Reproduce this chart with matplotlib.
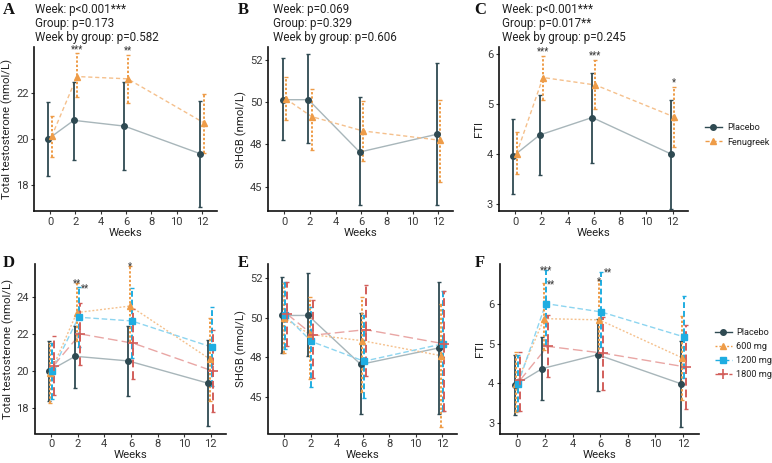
import matplotlib
matplotlib.use('Agg')
import matplotlib.pyplot as plt
from matplotlib.lines import Line2D

plt.rcParams['font.family'] = ['Roboto', 'DejaVu Sans']

weeks = [0, 2, 6, 12]
x_ticks = [0, 2, 4, 6, 8, 10, 12]

# ---------------- Total testosterone (nmol/L) ----------------
tt_placebo = [20.0, 20.8, 20.55, 19.35]
tt_placebo_lo = [18.4, 19.1, 18.65, 17.05]
tt_placebo_hi = [21.6, 22.45, 22.45, 21.65]

tt_fenu = [20.1, 22.7, 22.6, 20.7]
tt_fenu_lo = [19.2, 21.8, 21.55, 19.4]
tt_fenu_hi = [21.0, 23.7, 23.65, 21.95]

tt_600 = [19.9, 23.15, 23.5, 20.65]
tt_600_lo = [18.3, 21.6, 21.55, 18.4]
tt_600_hi = [21.5, 24.75, 25.65, 22.85]
tt_1200 = [20.0, 22.9, 22.7, 21.3]
tt_1200_lo = [18.5, 21.3, 20.7, 19.2]
tt_1200_hi = [21.5, 24.5, 24.45, 23.45]
tt_1800 = [20.3, 22.0, 21.5, 20.0]
tt_1800_lo = [18.7, 20.35, 19.6, 17.8]
tt_1800_hi = [21.9, 23.65, 23.35, 22.2]

# ---------------- SHBG (nmol/L) ----------------
sh_placebo = [50.15, 50.15, 47.05, 48.1]
sh_placebo_lo = [47.75, 47.6, 43.9, 43.9]
sh_placebo_hi = [52.6, 52.85, 50.3, 52.3]

sh_fenu = [50.2, 49.15, 48.3, 47.75]
sh_fenu_lo = [48.95, 47.15, 46.5, 45.3]
sh_fenu_hi = [51.5, 50.8, 50.05, 50.15]

sh_600 = [50.0, 48.95, 48.55, 47.6]
sh_600_lo = [47.8, 46.1, 45.3, 43.1]
sh_600_hi = [52.2, 51.3, 51.3, 50.9]
sh_1200 = [50.15, 48.5, 47.25, 48.35]
sh_1200_lo = [48.0, 45.6, 44.9, 44.1]
sh_1200_hi = [52.3, 50.7, 50.2, 51.7]
sh_1800 = [50.25, 48.9, 49.25, 48.35]
sh_1800_lo = [48.2, 46.2, 46.3, 44.1]
sh_1800_hi = [52.3, 51.1, 52.1, 51.7]

# ---------------- FTI ----------------
fti_placebo = [3.95, 4.37, 4.72, 3.99]
fti_placebo_lo = [3.19, 3.57, 3.81, 2.89]
fti_placebo_hi = [4.70, 5.17, 5.62, 5.07]

fti_fenu = [4.0, 5.52, 5.37, 4.73]
fti_fenu_lo = [3.59, 5.07, 4.89, 4.14]
fti_fenu_hi = [4.43, 5.95, 5.87, 5.33]

fti_600 = [3.99, 5.63, 5.6, 4.64]
fti_600_lo = [3.28, 4.83, 4.73, 3.57]
fti_600_hi = [4.79, 6.52, 6.6, 5.69]
fti_1200 = [3.99, 6.01, 5.8, 5.17]
fti_1200_lo = [3.3, 4.96, 4.91, 4.12]
fti_1200_hi = [4.7, 6.87, 6.81, 6.19]
fti_1800 = [4.07, 4.93, 4.76, 4.41]
fti_1800_lo = [3.3, 4.16, 3.84, 3.36]
fti_1800_hi = [4.79, 5.71, 5.66, 5.46]

# p-value texts
p_text_A = ["Week: p<0.001***", "Group: p=0.173", "Week by group: p=0.582"]
p_text_B = ["Week: p=0.069", "Group: p=0.329", "Week by group: p=0.606"]
p_text_C = ["Week: p<0.001***", "Group: p=0.017**", "Week by group: p=0.245"]

# significance stars: (week, series index, label)
stars_A = [(2, 1, "***"), (6, 1, "**")]
stars_B = []
stars_C = [(2, 1, "***"), (6, 1, "***"), (12, 1, "*")]
stars_D = [(2, 1, "**"), (2, 2, "**"), (6, 1, "*")]
stars_E = []
stars_F = [(2, 2, "***"), (2, 1, "**"), (6, 1, "*"), (6, 2, "**")]

labels2 = ["Placebo", "Fenugreek"]
labels4 = ["Placebo", "600 mg", "1200 mg", "1800 mg"]

# ---------------- styles ----------------
DARK = '#2F4A52'
ORANGE = '#EE9C48'
CYAN = '#1FADE1'
RED = '#D25E5A'
styles = {
    'Placebo':   dict(c=DARK, lc='#A8B6BA', m='o', ms=4.0, ls='-', els='-', elw=1.3),
    'Fenugreek': dict(c=ORANGE, lc='#F5C08C', m='^', ms=4.5, ls=(0, (3, 2)), els=(0, (1.2, 1.0)), elw=1.4),
    '600 mg':    dict(c=ORANGE, lc='#F5C08C', m='^', ms=4.5, ls=(0, (1.4, 1.4)), els=(0, (1.2, 1.0)), elw=1.4),
    '1200 mg':   dict(c=CYAN, lc='#8DD5F0', m='s', ms=4.3, ls=(0, (4, 2)), els=(0, (3, 1.5)), elw=1.4),
    '1800 mg':   dict(c=RED, lc='#E9A6A4', m='+', ms=7, ls=(0, (7, 3)), els=(0, (4, 2)), elw=1.4),
}

TICK_FS = 8
LAB_FS = 8.2
TXT_FS = 8.4
LEG_FS = 6.6
STAR_FS = 7

W, H = 772, 463
fig = plt.figure(figsize=(W / 100, H / 100), dpi=100)


def add_ax(l, t, r, b):
    return fig.add_axes([l / W, 1 - b / H, (r - l) / W, (b - t) / H])


def draw_panel(ax, series, labels, stars, xlim, ylim, yticks, yticklabels, ylabel, star_dy):
    n = len(series)
    width = 0.5
    offs = [(-width / 2 + width / (2 * n) + i * width / n) for i in range(n)]
    for i, ((m, lo, hi), lab) in enumerate(zip(series, labels)):
        st = styles[lab]
        xs = [w + offs[i] for w in weeks]
        ax.plot(xs, m, color=st['lc'], ls=st['ls'], lw=1.0, zorder=2)
        yerr = [[mm - l for mm, l in zip(m, lo)], [h - mm for mm, h in zip(m, hi)]]
        eb = ax.errorbar(xs, m, yerr=yerr, fmt='none', ecolor=st['c'], elinewidth=st['elw'],
                         capsize=1.5, capthick=1.0, zorder=3)
        eb[2][0].set_linestyle(st['els'])
        if st['m'] == '+':
            ax.plot(xs, m, ls='none', marker='+', ms=st['ms'], mew=1.2, color=st['c'], zorder=4)
        else:
            ax.plot(xs, m, ls='none', marker=st['m'], ms=st['ms'], color=st['c'], mec=st['c'], zorder=4)
    for j, (w, si, txt) in enumerate(stars):
        k = weeks.index(w)
        yh = series[si][2][k]
        # a second label at the same week is nudged to the right so both stay legible
        dx = 5 if any(s[0] == w for s in stars[:j]) else 0
        ax.annotate(txt, (w + offs[si], yh), xytext=(dx, star_dy), textcoords='offset points',
                    ha='center', va='center', fontsize=STAR_FS, color='#333333', zorder=5,
                    annotation_clip=False)
    ax.set_xlim(*xlim)
    ax.set_ylim(*ylim)
    ax.set_xticks(x_ticks)
    ax.set_yticks(yticks)
    ax.set_yticklabels(yticklabels)
    for s in ['top', 'right']:
        ax.spines[s].set_visible(False)
    for s in ['left', 'bottom']:
        ax.spines[s].set_linewidth(1.2)
        ax.spines[s].set_color('#111111')
    ax.tick_params(axis='both', labelsize=TICK_FS, length=2.5, width=0.8, color='#333333',
                   labelcolor='#3a3a3a', pad=1.5)
    ax.set_xlabel('Weeks', fontsize=LAB_FS, color='#222222', labelpad=1)
    ax.set_ylabel(ylabel, fontsize=LAB_FS, color='#222222', labelpad=2)


XL = (-1.25, 13.15)
TOP1, BOT1 = 47, 211
TOP2, BOT2 = 264, 433.5
axA = add_ax(34.2, TOP1, 216.6, BOT1)
axB = add_ax(268.3, TOP1, 453, BOT1)
axC = add_ax(498.6, TOP1, 687.8, BOT1)
axD = add_ax(34.5, TOP2, 226, BOT2)
axE = add_ax(268, TOP2, 457, BOT2)
axF = add_ax(500, TOP2, 699, BOT2)

draw_panel(axA, [(tt_placebo, tt_placebo_lo, tt_placebo_hi), (tt_fenu, tt_fenu_lo, tt_fenu_hi)],
           labels2, stars_A, XL, (16.87, 23.98), [18, 20, 22], ['18', '20', '22'],
           'Total testosterone (nmol/L)', 3)
draw_panel(axB, [(sh_placebo, sh_placebo_lo, sh_placebo_hi), (sh_fenu, sh_fenu_lo, sh_fenu_hi)],
           labels2, stars_B, XL, (43.56, 53.27), [45, 47.5, 50, 52.5], ['45', '48', '50', '52'],
           'SHGB (nmol/L)', 3)
draw_panel(axC, [(fti_placebo, fti_placebo_lo, fti_placebo_hi), (fti_fenu, fti_fenu_lo, fti_fenu_hi)],
           labels2, stars_C, XL, (2.85, 6.13), [3, 4, 5, 6], ['3', '4', '5', '6'],
           'FTI', 3)
draw_panel(axD, [(tt_placebo, tt_placebo_lo, tt_placebo_hi), (tt_600, tt_600_lo, tt_600_hi),
                 (tt_1200, tt_1200_lo, tt_1200_hi), (tt_1800, tt_1800_lo, tt_1800_hi)],
           labels4, stars_D, XL, (16.65, 25.76), [18, 20, 22, 24], ['18', '20', '22', '24'],
           'Total testosterone (nmol/L)', -0.5)
draw_panel(axE, [(sh_placebo, sh_placebo_lo, sh_placebo_hi), (sh_600, sh_600_lo, sh_600_hi),
                 (sh_1200, sh_1200_lo, sh_1200_hi), (sh_1800, sh_1800_lo, sh_1800_hi)],
           labels4, stars_E, XL, (42.67, 53.41), [45, 47.5, 50, 52.5], ['45', '48', '50', '52'],
           'SHGB (nmol/L)', -0.5)
draw_panel(axF, [(fti_placebo, fti_placebo_lo, fti_placebo_hi), (fti_600, fti_600_lo, fti_600_hi),
                 (fti_1200, fti_1200_lo, fti_1200_hi), (fti_1800, fti_1800_lo, fti_1800_hi)],
           labels4, stars_F, XL, (2.73, 7.01), [3, 4, 5, 6], ['3', '4', '5', '6'],
           'FTI', -0.5)

# p-value annotations
for (x0, lines) in [(35, p_text_A), (273, p_text_B), (502, p_text_C)]:
    for j, s in enumerate(lines):
        fig.text(x0 / W, 1 - (9 + 14.5 * j) / H, s, ha='left', va='center', fontsize=TXT_FS, color='#222222')

# panel letters
for (x0, y0, s) in [(9, 10, 'A'), (243, 10, 'B'), (480, 10, 'C'),
                    (9, 263, 'D'), (243, 263, 'E'), (480, 263, 'F')]:
    fig.text(x0 / W, 1 - y0 / H, s, ha='center', va='center', fontsize=12, fontweight='bold',
             family='Liberation Serif', color='#111111')


def handle(lab):
    st = styles[lab]
    if st['m'] == '+':
        return Line2D([], [], color=st['c'], ls=st['ls'], lw=1.0, marker='+', ms=st['ms'], mew=1.2)
    return Line2D([], [], color=st['c'], ls=st['ls'], lw=1.0, marker=st['m'], ms=st['ms'])


fig.legend([handle(l) for l in labels2], labels2, loc='center left',
           bbox_to_anchor=(705 / W, 1 - 135 / H), frameon=False, fontsize=LEG_FS,
           handlelength=1.8, labelspacing=0.55, handletextpad=0.6, borderpad=0,
           borderaxespad=0, labelcolor='#222222')
fig.legend([handle(l) for l in labels4], labels4, loc='center left',
           bbox_to_anchor=(715 / W, 1 - 353.5 / H), frameon=False, fontsize=LEG_FS,
           handlelength=1.8, labelspacing=0.55, handletextpad=0.5, borderpad=0,
           borderaxespad=0, labelcolor='#222222')

fig.savefig('out.png', dpi=100)
